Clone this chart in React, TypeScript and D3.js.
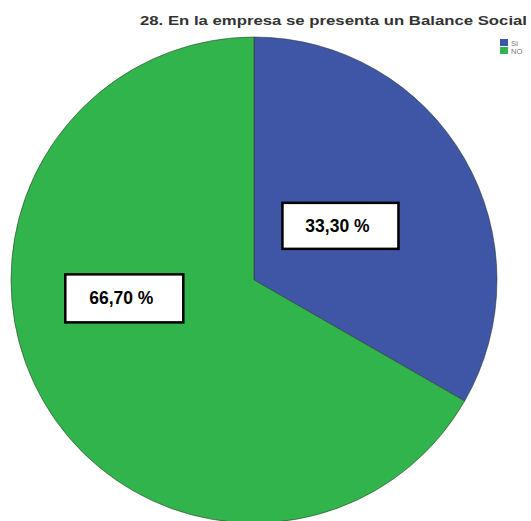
import React from "react";
import * as d3 from "d3";

const categories = ["SI", "NO"];
const values = [33.3, 66.7];
const labels = ["33,30 %", "66,70 %"];
const colors = ["#3F56A6", "#31B44B"];
const title = "28. En la empresa se presenta un Balance Social";

export default function App() {
  const W = 531, H = 521;
  const cx = 254, cy = 280, R = 243;
  const pie = d3.pie<number>().sort(null).value((d) => d)(values);
  const arc = d3.arc<d3.PieArcDatum<number>>().innerRadius(0).outerRadius(R);
  const labelR = [102, 131];
  const angleShift = [-2 * Math.PI / 180, 22 * Math.PI / 180];
  const boxW = [116, 118], boxH = [46, 48];
  return (
    <svg width={W} height={H} style={{ position: "absolute", left: 0, top: 0, background: "#fff" }}>
      <rect width={W} height={H} fill="#fff" />
      <text x={527} y={25} textAnchor="end" fontFamily="Liberation Sans, Arial, sans-serif" fontWeight="bold" fontSize={13.5} fill="#333" textLength={387} lengthAdjust="spacingAndGlyphs">{title}</text>
      <g transform={`translate(${cx},${cy})`}>
        {pie.map((p, i) => (
          <path key={i} d={arc(p) || ""} fill={colors[i]} stroke="#2a3a2a" strokeWidth={0.8} strokeOpacity={0.7} />
        ))}
        {pie.map((p, i) => {
          const a = (p.startAngle + p.endAngle) / 2 + angleShift[i];
          const x = Math.sin(a) * labelR[i];
          const y = -Math.cos(a) * labelR[i];
          return (
            <g key={"l" + i}>
              <rect x={x - boxW[i] / 2} y={y - boxH[i] / 2} width={boxW[i]} height={boxH[i]} fill="#fff" stroke="#000" strokeWidth={2.5} />
              <text x={x - 3} y={y + 6} textAnchor="middle" fontFamily="Liberation Sans, Arial, sans-serif" fontWeight="bold" fontSize={17.5} fill="#000">{labels[i]}</text>
            </g>
          );
        })}
      </g>
      {categories.map((c, i) => (
        <g key={c} transform={`translate(500,${39 + i * 8})`}>
          <rect width={8} height={7} fill={colors[i]} />
          <text x={11} y={6.5} fontFamily="Liberation Sans, Arial, sans-serif" fontSize={7.5} fill="#777">{c}</text>
        </g>
      ))}
    </svg>
  );
}
